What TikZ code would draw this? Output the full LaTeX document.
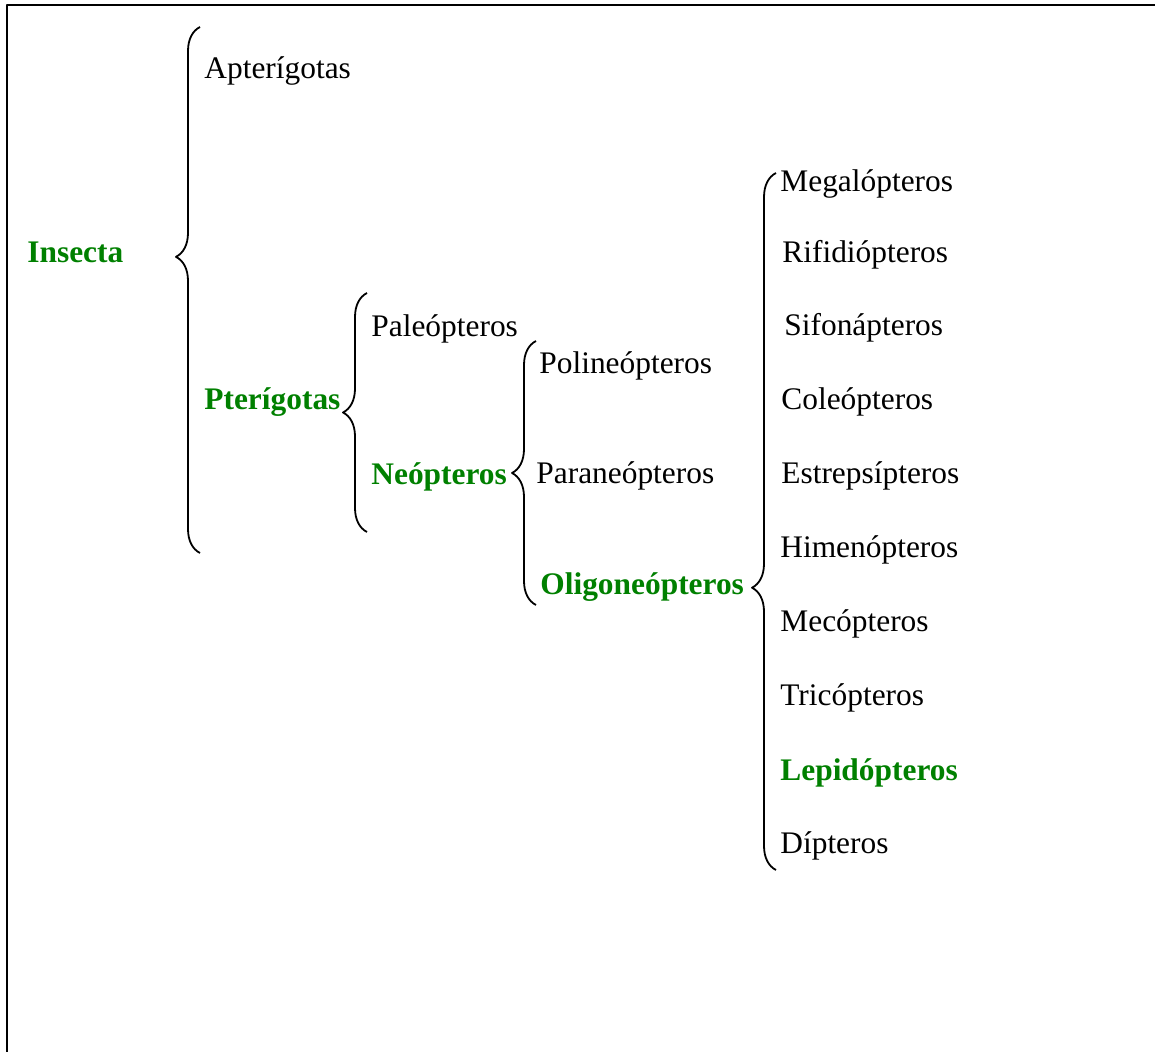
\documentclass[tikz,border=0pt]{standalone}
\usepackage{fontspec}
\setmainfont{Liberation Serif}
\usetikzlibrary{decorations.pathreplacing}
\definecolor{ink}{HTML}{000000}
\definecolor{taxgreen}{HTML}{008000}
\newcommand{\figfontsize}{\fontsize{15.7}{18}\selectfont}
\tikzset{
  every picture/.style = {font=\figfontsize, line join=round},
  frame/.style         = {line width=1.3pt, ink},
  curly/.style         = {line width=0.9pt, ink, decorate,
                          decoration={brace, amplitude=12pt, aspect=#1}},
  curly/.default       = 0.5,
  taxon/.style         = {anchor=base west, inner sep=0pt, text=ink},
  group/.style         = {taxon, text=taxgreen, font=\figfontsize\bfseries},
}

\begin{document}
\begin{tikzpicture}[x=0.5pt, y=-0.5pt]
  \useasboundingbox (0,0) rectangle (1155,1052);
  \draw[frame] (7,1052) |- (1155,5);   % only two sides of the box show

  \node[group] (insecta) at (27,263)  {Insecta};
  \node[taxon] (apter)   at (204,79)  {Apterígotas};
  \node[group] (pter)    at (204,410) {Pterígotas};
  \node[taxon] (paleo)   at (371,337) {Paleópteros};
  \node[group] (neo)     at (371,485) {Neópteros};
  \node[taxon] (poli)    at (539,374) {Polineópteros};
  \node[taxon] (para)    at (536,484) {Paraneópteros};
  \node[group] (oligo)   at (540,595) {Oligoneópteros};

  % the orders under Oligoneópteros, one per row
  \foreach \n/\x/\y/\s/\t in {
      mega/780/192/taxon/Megalópteros,
      rifi/782/263/taxon/Rifidiópteros,
      sifo/784/336/taxon/Sifonápteros,
      cole/781/410/taxon/Coleópteros,
      estr/781/484/taxon/Estrepsípteros,
      hime/780/558/taxon/Himenópteros,
      meco/780/632/taxon/Mecópteros,
      tric/780/705/taxon/Tricópteros,
      lepi/780/780/group/Lepidópteros,
      dipt/780/853/taxon/Dípteros}
    \node[\s] (\n) at (\x,\y) {\t};

  % brace ends, drawn bottom to top so the tip points left
  \coordinate (insB) at (200,553);  \coordinate (insT) at (200,27);
  \coordinate (ptrB) at (367,532);  \coordinate (ptrT) at (367,293);
  \coordinate (neoB) at (536,605);  \coordinate (neoT) at (536,341);
  \coordinate (oliB) at (776,870);  \coordinate (oliT) at (776,173);

  \draw[curly=0.563] (insB) -- (insT);
  \draw[curly]       (ptrB) -- (ptrT);
  \draw[curly]       (neoB) -- (neoT);
  \draw[curly=0.405] (oliB) -- (oliT);
\end{tikzpicture}
\end{document}
